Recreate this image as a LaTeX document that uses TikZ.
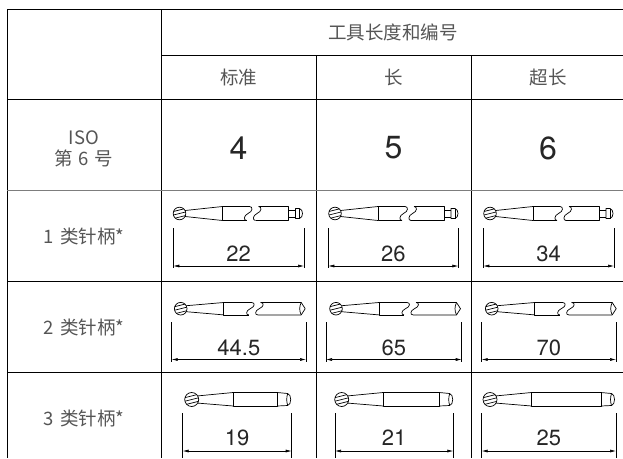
\documentclass[tikz,border=0pt]{standalone}
\usepackage{fontspec}
\setmainfont{TeX Gyre Heros}
\newfontfamily\cjk{Noto Sans CJK SC}
\usetikzlibrary{arrows.meta}
\definecolor{txt}{RGB}{85,85,85}
\definecolor{sepc}{RGB}{125,125,125}
\newcommand\dimbar[8]{%
  \coordinate (#1l) at (#2,#6);
  \coordinate (#1r) at (#3,#6);
  \draw[dimext] (#2,#4) -- (#2,#5) (#3,#4) -- (#3,#5);
  \draw[dimarr] (#1l) -- (#1r);
  \node[dimtext] (#1t) at ({(#2+#3)/2},#7) {#8};
}
\begin{document}
\begin{tikzpicture}[x=1pt,y=-1pt,line join=round,
  gridline/.style={line width=0.9pt,black},
  sepline/.style={line width=1.8pt,sepc},
  lbl/.style={text=txt,font=\cjk\fontsize{18.5}{21}\selectfont,inner sep=0pt},
  big/.style={text=black!85,font=\fontsize{32}{36}\selectfont,inner sep=0pt},
  dimtext/.style={text=black!85,font=\fontsize{22}{25}\selectfont,inner sep=0pt},
  bur/.style={line width=0.7pt},
  dimext/.style={line width=0.6pt},
  dimarr/.style={line width=0.6pt,{Latex[length=6pt,width=3pt]}-{Latex[length=6pt,width=3pt]}},
  hatch/.pic={
    \begin{scope}
      \clip (0,0) circle[radius=#1pt];
      \draw[bur] (-8,-1.55) -- (8,-5.55) (-8,2) -- (8,-2) (-8,5.55) -- (8,1.55);
    \end{scope}
    \draw[bur] (0,0) circle[radius=#1pt];
  },
  brk/.pic={
    \draw[bur] (0,-#1) .. controls (3.5,-#1) and (3.5,-2) .. (-1.5,0) .. controls (-6,2) and (-6,#1) .. (-3,#1);
  },
  burone/.pic={
    \pic at (0,0) {hatch=6.3};
    \draw[bur] (5.6,-3) -- (43,-7) (5.6,3) -- (43,7);
    \draw[bur] (70,-7) -- (43,-7) -- (43,7) -- (67,7);
    \pic at (70,0) {brk=7};
    \pic at (79,0) {brk=7};
    \draw[bur] (79,-7) -- (109,-7) -- (109,7) -- (76,7);
    \draw[bur] (109,-3.5) -- (116,-3.5) (109,3.5) -- (116,3.5);
    \draw[bur] (116,-5) -- (120,-5) .. controls (124,-4) and (124,4) .. (120,5) -- (116,5) -- cycle;
    \draw[bur] (120,-5) -- (120,5);
  },
  burtwo/.pic={
    \pic at (0,0) {hatch=6.3};
    \draw[bur] (5.6,-3) -- (43,-6.2) (5.6,3) -- (43,6.2);
    \draw[bur] (71,-6.2) -- (43,-6.2) -- (43,6.2) -- (68,6.2);
    \pic at (71,0) {brk=6.2};
    \pic at (80,0) {brk=6.2};
    \draw[bur] (80,-6.2) -- (120.5,-6.2) -- (124.5,0) -- (120.5,6.2) -- (77,6.2);
    \draw[bur] (120.5,-6.2) .. controls (118.5,-2) and (118.5,2) .. (120.5,6.2);
  },
  burthree/.pic={
    \pic at (0,0) {hatch=7};
    \draw[bur] (6,-3.6) -- (41.5,-7) (6,3.6) -- (41.5,6.5);
    \draw[bur] ({#1-14},-7) -- (41.5,-7) -- (41.5,6.5) -- ({#1-14},6.5) -- cycle;
    \draw[bur] ({#1-14},-7) -- ({#1-3.5},-6) .. controls ({#1+0.5},-5) and ({#1+0.5},5) .. ({#1-3.5},6) -- ({#1-14},6.5);
    \draw[bur] ({#1-3.5},-6) .. controls ({#1-4.8},-2) and ({#1-4.8},2) .. ({#1-3.5},6);
  },
]
\useasboundingbox[fill=white] (0,0) rectangle (623,458);

% table grid
\draw[gridline] (7,9.5) -- (623,9.5);
\draw[gridline] (7,9.5) -- (7,458);
\draw[gridline] (161,9.5) -- (161,458);
\draw[gridline] (161,55) -- (623,55);
\draw[gridline] (316,55) -- (316,458);
\draw[gridline] (471,55) -- (471,458);
\draw[gridline] (7,99.5) -- (623,99.5);
\draw[sepline] (7,190.5) -- (623,190.5);
\draw[gridline] (7,281) -- (623,281);
\draw[gridline] (7,372.5) -- (623,372.5);

% header texts
\node[lbl] (head) at (393,32) {工具长度和编号};
\node[lbl] (std) at (238.5,77) {标准};
\node[lbl] (lng) at (393.5,77) {长};
\node[lbl] (xlng) at (548,77) {超长};
\node[lbl] (iso) at (84,138) {ISO};
\node[lbl] (isono) at (84,158) {第\hspace{0.3em}6\hspace{0.3em}号};
\node[big] (n4) at (238.5,148) {4};
\node[big] (n5) at (393.5,148) {5};
\node[big] (n6) at (548,148) {6};

% row labels
\node[lbl] (r1) at (84,236) {1\hspace{0.35em}类针柄*};
\node[lbl] (r2) at (84,327) {2\hspace{0.35em}类针柄*};
\node[lbl] (r3) at (84,418) {3\hspace{0.35em}类针柄*};

% burs
\pic (b11) at (179.5,213.5) {burone};
\pic (b12) at (335,213.5) {burone};
\pic (b13) at (490,213.5) {burone};
\pic (b21) at (180.7,308.7) {burtwo};
\pic (b22) at (336,308.7) {burtwo};
\pic (b23) at (491.7,308.7) {burtwo};
\pic (b31) at (191.7,399.5) {burthree=99.5};
\pic (b32) at (341.7,399.5) {burthree=111.5};
\pic (b33) at (490,399.5) {burthree=125};

% dimensions
\dimbar{d11}{173.3}{304}{228}{268}{266}{254}{22}
\dimbar{d12}{328.3}{458.3}{228}{268}{266}{254}{26}
\dimbar{d13}{483.3}{614}{228}{268}{266}{254}{34}
\dimbar{d21}{171.7}{306}{322}{362}{359.5}{348}{44.5}
\dimbar{d22}{326}{461.7}{322}{362}{359.5}{348}{65}
\dimbar{d23}{481.7}{616}{322}{362}{359.5}{348}{70}
\dimbar{d31}{182.7}{291.7}{413}{458}{451}{438}{19}
\dimbar{d32}{335}{453.3}{413}{458}{451}{438}{21}
\dimbar{d33}{481.7}{616}{413}{458}{451}{438}{25}
\end{tikzpicture}
\end{document}
